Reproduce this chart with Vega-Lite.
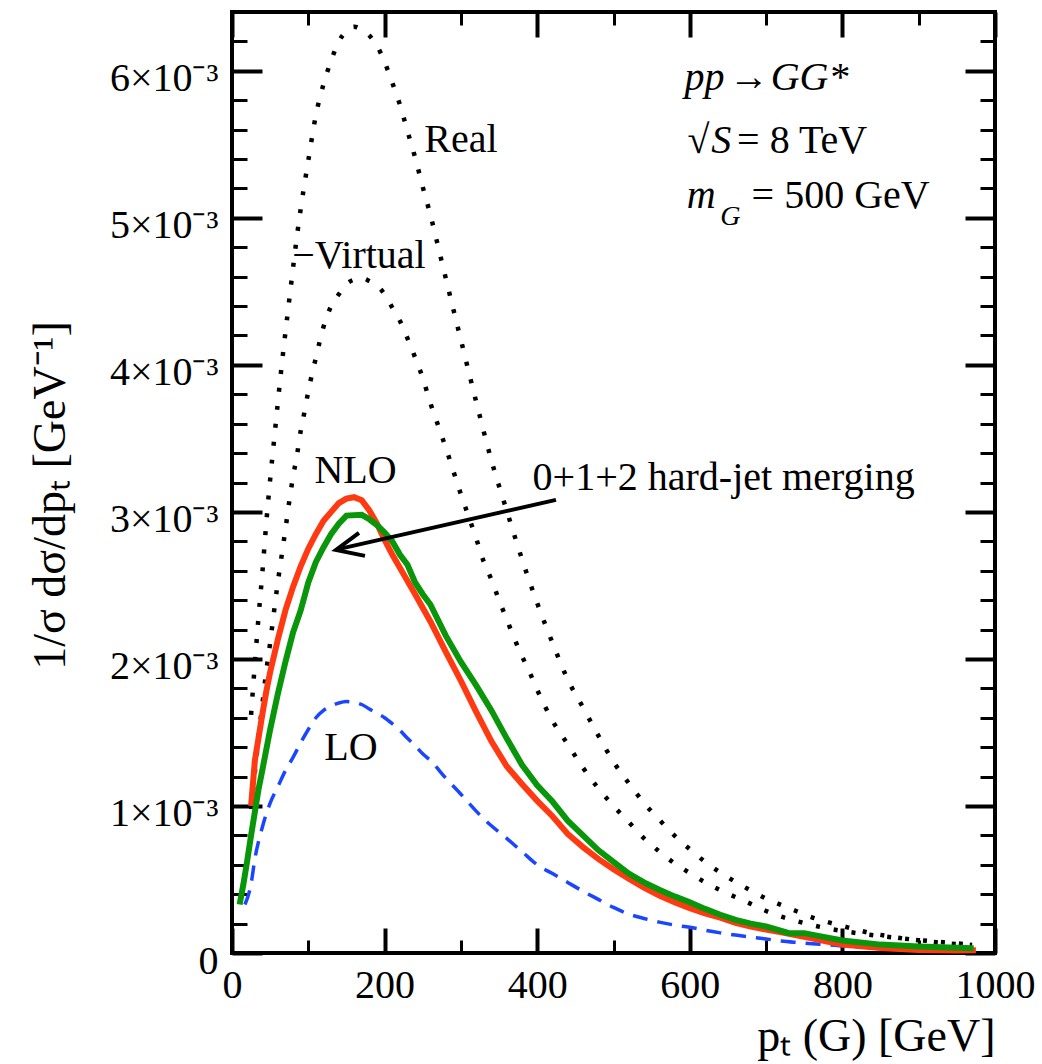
{
"$schema": "https://vega.github.io/schema/vega-lite/v6.json",
"width": 763, "height": 941,
"autosize": {"type": "none"},
"padding": {"left": 232, "top": 12, "right": 47, "bottom": 111},
"background": "white",
"config": {
  "view": {"stroke": "black", "strokeWidth": 4},
  "font": "Liberation Serif",
  "axis": {"grid": false, "domain": false, "tickColor": "black", "labelColor": "black", "titleColor": "black", "labelFont": "Liberation Serif", "titleFont": "Liberation Serif", "titleFontWeight": "normal", "tickCap": "butt"}
},
"resolve": {"axis": {"x": "independent", "y": "independent"}},
"datasets": {
  "curves": [
    {"s":"Real","x":25,"y":0.00162},{"s":"Real","x":30,"y":0.00197},{"s":"Real","x":35,"y":0.00230},{"s":"Real","x":40,"y":0.00260},{"s":"Real","x":45,"y":0.00293},{"s":"Real","x":50,"y":0.00322},{"s":"Real","x":55,"y":0.00348},{"s":"Real","x":60,"y":0.00374},{"s":"Real","x":65,"y":0.00399},{"s":"Real","x":70,"y":0.00422},{"s":"Real","x":75,"y":0.00444},{"s":"Real","x":80,"y":0.00466},{"s":"Real","x":85,"y":0.00487},{"s":"Real","x":90,"y":0.00506},{"s":"Real","x":95,"y":0.00523},{"s":"Real","x":100,"y":0.00539},{"s":"Real","x":110,"y":0.00570},{"s":"Real","x":120,"y":0.00591},{"s":"Real","x":130,"y":0.00607},{"s":"Real","x":140,"y":0.00620},{"s":"Real","x":150,"y":0.00627},{"s":"Real","x":160,"y":0.00630},{"s":"Real","x":170,"y":0.00628},{"s":"Real","x":180,"y":0.00624},{"s":"Real","x":190,"y":0.00617},{"s":"Real","x":200,"y":0.00606},{"s":"Real","x":210,"y":0.00592},{"s":"Real","x":220,"y":0.00577},{"s":"Real","x":230,"y":0.00559},{"s":"Real","x":240,"y":0.00541},{"s":"Real","x":250,"y":0.00521},{"s":"Real","x":260,"y":0.00502},{"s":"Real","x":275,"y":0.00470},{"s":"Real","x":290,"y":0.00438},{"s":"Real","x":300,"y":0.00417},{"s":"Real","x":320,"y":0.00375},{"s":"Real","x":340,"y":0.00335},{"s":"Real","x":360,"y":0.00301},{"s":"Real","x":380,"y":0.00268},{"s":"Real","x":400,"y":0.00238},{"s":"Real","x":420,"y":0.00211},{"s":"Real","x":440,"y":0.00186},{"s":"Real","x":460,"y":0.00167},{"s":"Real","x":480,"y":0.00148},{"s":"Real","x":500,"y":0.00130},{"s":"Real","x":520,"y":0.001155},{"s":"Real","x":540,"y":0.00102},{"s":"Real","x":560,"y":0.000907},{"s":"Real","x":580,"y":0.000798},{"s":"Real","x":600,"y":0.000706},{"s":"Real","x":620,"y":0.000620},{"s":"Real","x":640,"y":0.000547},{"s":"Real","x":660,"y":0.000483},{"s":"Real","x":680,"y":0.000425},{"s":"Real","x":700,"y":0.000370},{"s":"Real","x":720,"y":0.000326},{"s":"Real","x":740,"y":0.000284},{"s":"Real","x":760,"y":0.000243},{"s":"Real","x":780,"y":0.000211},{"s":"Real","x":800,"y":0.000184},{"s":"Real","x":820,"y":0.000156},{"s":"Real","x":840,"y":0.000132},{"s":"Real","x":860,"y":0.000115},{"s":"Real","x":880,"y":0.000098},{"s":"Real","x":900,"y":0.000087},{"s":"Real","x":920,"y":0.000074},{"s":"Real","x":940,"y":0.000064},{"s":"Real","x":960,"y":0.000058},{"s":"Real","x":970,"y":0.000055},

    {"s":"Virtual","x":25,"y":0.00098},{"s":"Virtual","x":30,"y":0.00123},{"s":"Virtual","x":35,"y":0.00148},{"s":"Virtual","x":40,"y":0.00170},{"s":"Virtual","x":45,"y":0.00192},{"s":"Virtual","x":50,"y":0.00211},{"s":"Virtual","x":55,"y":0.00232},{"s":"Virtual","x":60,"y":0.00252},{"s":"Virtual","x":65,"y":0.00270},{"s":"Virtual","x":70,"y":0.00288},{"s":"Virtual","x":75,"y":0.00307},{"s":"Virtual","x":80,"y":0.00324},{"s":"Virtual","x":85,"y":0.00338},{"s":"Virtual","x":90,"y":0.00355},{"s":"Virtual","x":95,"y":0.00368},{"s":"Virtual","x":100,"y":0.00382},{"s":"Virtual","x":110,"y":0.00405},{"s":"Virtual","x":120,"y":0.00426},{"s":"Virtual","x":130,"y":0.00440},{"s":"Virtual","x":140,"y":0.00448},{"s":"Virtual","x":150,"y":0.00455},{"s":"Virtual","x":160,"y":0.00458},{"s":"Virtual","x":170,"y":0.00459},{"s":"Virtual","x":180,"y":0.00457},{"s":"Virtual","x":190,"y":0.00454},{"s":"Virtual","x":200,"y":0.00448},{"s":"Virtual","x":210,"y":0.00439},{"s":"Virtual","x":220,"y":0.00430},{"s":"Virtual","x":230,"y":0.00418},{"s":"Virtual","x":240,"y":0.00405},{"s":"Virtual","x":250,"y":0.00391},{"s":"Virtual","x":260,"y":0.00374},{"s":"Virtual","x":270,"y":0.00359},{"s":"Virtual","x":280,"y":0.00344},{"s":"Virtual","x":290,"y":0.00328},{"s":"Virtual","x":300,"y":0.00312},{"s":"Virtual","x":310,"y":0.00297},{"s":"Virtual","x":320,"y":0.00282},{"s":"Virtual","x":330,"y":0.00266},{"s":"Virtual","x":340,"y":0.00254},{"s":"Virtual","x":350,"y":0.00240},{"s":"Virtual","x":360,"y":0.00227},{"s":"Virtual","x":370,"y":0.00214},{"s":"Virtual","x":380,"y":0.00202},{"s":"Virtual","x":390,"y":0.00191},{"s":"Virtual","x":400,"y":0.00179},{"s":"Virtual","x":420,"y":0.00158},{"s":"Virtual","x":440,"y":0.00142},{"s":"Virtual","x":460,"y":0.00126},{"s":"Virtual","x":480,"y":0.00112},{"s":"Virtual","x":500,"y":0.00100},{"s":"Virtual","x":520,"y":0.00089},{"s":"Virtual","x":540,"y":0.00078},{"s":"Virtual","x":560,"y":0.00069},{"s":"Virtual","x":580,"y":0.00061},{"s":"Virtual","x":600,"y":0.000544},{"s":"Virtual","x":620,"y":0.000480},{"s":"Virtual","x":640,"y":0.000427},{"s":"Virtual","x":660,"y":0.000380},{"s":"Virtual","x":680,"y":0.000334},{"s":"Virtual","x":700,"y":0.000286},{"s":"Virtual","x":720,"y":0.000247},{"s":"Virtual","x":740,"y":0.000217},{"s":"Virtual","x":760,"y":0.000190},{"s":"Virtual","x":780,"y":0.000168},{"s":"Virtual","x":800,"y":0.000150},{"s":"Virtual","x":850,"y":0.000115},{"s":"Virtual","x":900,"y":0.000088},{"s":"Virtual","x":950,"y":0.000065},{"s":"Virtual","x":970,"y":0.000057},

    {"s":"LO","x":17,"y":0.00033},{"s":"LO","x":25,"y":0.00047},{"s":"LO","x":30,"y":0.00064},{"s":"LO","x":40,"y":0.00086},{"s":"LO","x":50,"y":0.00102},{"s":"LO","x":60,"y":0.00113},{"s":"LO","x":70,"y":0.00124},{"s":"LO","x":80,"y":0.00133},{"s":"LO","x":90,"y":0.00143},{"s":"LO","x":100,"y":0.00152},{"s":"LO","x":110,"y":0.00160},{"s":"LO","x":120,"y":0.00165},{"s":"LO","x":130,"y":0.00168},{"s":"LO","x":140,"y":0.00170},{"s":"LO","x":150,"y":0.00171},{"s":"LO","x":160,"y":0.001705},{"s":"LO","x":170,"y":0.00169},{"s":"LO","x":180,"y":0.00166},{"s":"LO","x":190,"y":0.00163},{"s":"LO","x":200,"y":0.00160},{"s":"LO","x":210,"y":0.00156},{"s":"LO","x":220,"y":0.001515},{"s":"LO","x":230,"y":0.00146},{"s":"LO","x":240,"y":0.00141},{"s":"LO","x":250,"y":0.001355},{"s":"LO","x":260,"y":0.00131},{"s":"LO","x":280,"y":0.00119},{"s":"LO","x":300,"y":0.00108},{"s":"LO","x":320,"y":0.000965},{"s":"LO","x":340,"y":0.000865},{"s":"LO","x":360,"y":0.00078},{"s":"LO","x":380,"y":0.00069},{"s":"LO","x":400,"y":0.00060},{"s":"LO","x":420,"y":0.00054},{"s":"LO","x":440,"y":0.00048},{"s":"LO","x":460,"y":0.00042},{"s":"LO","x":480,"y":0.000365},{"s":"LO","x":500,"y":0.00031},{"s":"LO","x":520,"y":0.000265},{"s":"LO","x":540,"y":0.000235},{"s":"LO","x":560,"y":0.00021},{"s":"LO","x":580,"y":0.00019},{"s":"LO","x":600,"y":0.000175},{"s":"LO","x":620,"y":0.000155},{"s":"LO","x":640,"y":0.000137},{"s":"LO","x":660,"y":0.000122},{"s":"LO","x":680,"y":0.000108},{"s":"LO","x":700,"y":0.000095},{"s":"LO","x":720,"y":0.000082},{"s":"LO","x":740,"y":0.000072},{"s":"LO","x":760,"y":0.000063},{"s":"LO","x":780,"y":0.000056},{"s":"LO","x":800,"y":0.000048},{"s":"LO","x":850,"y":0.000034},{"s":"LO","x":900,"y":0.000025},{"s":"LO","x":950,"y":0.000019},{"s":"LO","x":975,"y":0.000016},

    {"s":"NLO","x":25,"y":0.00100},{"s":"NLO","x":30,"y":0.00131},{"s":"NLO","x":35,"y":0.00147},{"s":"NLO","x":40,"y":0.00163},{"s":"NLO","x":45,"y":0.00178},{"s":"NLO","x":50,"y":0.00191},{"s":"NLO","x":60,"y":0.00213},{"s":"NLO","x":70,"y":0.00233},{"s":"NLO","x":80,"y":0.00249},{"s":"NLO","x":90,"y":0.00263},{"s":"NLO","x":100,"y":0.00275},{"s":"NLO","x":110,"y":0.00285},{"s":"NLO","x":120,"y":0.00294},{"s":"NLO","x":130,"y":0.00300},{"s":"NLO","x":140,"y":0.00306},{"s":"NLO","x":150,"y":0.00309},{"s":"NLO","x":160,"y":0.00310},{"s":"NLO","x":170,"y":0.00308},{"s":"NLO","x":180,"y":0.00301},{"s":"NLO","x":190,"y":0.00292},{"s":"NLO","x":200,"y":0.00281},{"s":"NLO","x":210,"y":0.00271},{"s":"NLO","x":220,"y":0.00262},{"s":"NLO","x":240,"y":0.00244},{"s":"NLO","x":260,"y":0.002255},{"s":"NLO","x":280,"y":0.00205},{"s":"NLO","x":300,"y":0.00185},{"s":"NLO","x":320,"y":0.00164},{"s":"NLO","x":340,"y":0.00144},{"s":"NLO","x":360,"y":0.00127},{"s":"NLO","x":380,"y":0.00115},{"s":"NLO","x":400,"y":0.001035},{"s":"NLO","x":420,"y":0.00093},{"s":"NLO","x":440,"y":0.00081},{"s":"NLO","x":460,"y":0.00072},{"s":"NLO","x":480,"y":0.00064},{"s":"NLO","x":500,"y":0.00057},{"s":"NLO","x":520,"y":0.000505},{"s":"NLO","x":540,"y":0.000445},{"s":"NLO","x":560,"y":0.00039},{"s":"NLO","x":580,"y":0.000345},{"s":"NLO","x":600,"y":0.000305},{"s":"NLO","x":620,"y":0.00027},{"s":"NLO","x":640,"y":0.00024},{"s":"NLO","x":660,"y":0.000205},{"s":"NLO","x":680,"y":0.00018},{"s":"NLO","x":700,"y":0.00016},{"s":"NLO","x":720,"y":0.00014},{"s":"NLO","x":740,"y":0.00012},{"s":"NLO","x":760,"y":0.00010},{"s":"NLO","x":780,"y":0.000078},{"s":"NLO","x":800,"y":0.000058},{"s":"NLO","x":850,"y":0.000034},{"s":"NLO","x":900,"y":0.000021},{"s":"NLO","x":950,"y":0.000017},{"s":"NLO","x":975,"y":0.000018},

    {"s":"Merged","x":10,"y":0.00033},{"s":"Merged","x":15,"y":0.00047},{"s":"Merged","x":20,"y":0.00063},{"s":"Merged","x":25,"y":0.00080},{"s":"Merged","x":30,"y":0.00096},{"s":"Merged","x":35,"y":0.00112},{"s":"Merged","x":40,"y":0.00125},{"s":"Merged","x":50,"y":0.00152},{"s":"Merged","x":60,"y":0.00176},{"s":"Merged","x":70,"y":0.00198},{"s":"Merged","x":80,"y":0.00218},{"s":"Merged","x":90,"y":0.00233},{"s":"Merged","x":100,"y":0.00252},{"s":"Merged","x":110,"y":0.00266},{"s":"Merged","x":120,"y":0.00276},{"s":"Merged","x":130,"y":0.00285},{"s":"Merged","x":140,"y":0.00292},{"s":"Merged","x":150,"y":0.002975},{"s":"Merged","x":170,"y":0.00298},{"s":"Merged","x":180,"y":0.00295},{"s":"Merged","x":190,"y":0.00291},{"s":"Merged","x":200,"y":0.00286},{"s":"Merged","x":210,"y":0.00280},{"s":"Merged","x":220,"y":0.00271},{"s":"Merged","x":230,"y":0.00264},{"s":"Merged","x":240,"y":0.00252},{"s":"Merged","x":250,"y":0.00244},{"s":"Merged","x":260,"y":0.00237},{"s":"Merged","x":280,"y":0.00216},{"s":"Merged","x":300,"y":0.00198},{"s":"Merged","x":320,"y":0.00182},{"s":"Merged","x":340,"y":0.00165},{"s":"Merged","x":360,"y":0.00146},{"s":"Merged","x":380,"y":0.00128},{"s":"Merged","x":400,"y":0.00114},{"s":"Merged","x":420,"y":0.00103},{"s":"Merged","x":440,"y":0.00090},{"s":"Merged","x":460,"y":0.00080},{"s":"Merged","x":480,"y":0.00070},{"s":"Merged","x":500,"y":0.00062},{"s":"Merged","x":520,"y":0.00054},{"s":"Merged","x":540,"y":0.00048},{"s":"Merged","x":560,"y":0.00043},{"s":"Merged","x":580,"y":0.000385},{"s":"Merged","x":600,"y":0.000345},{"s":"Merged","x":620,"y":0.00030},{"s":"Merged","x":640,"y":0.00026},{"s":"Merged","x":660,"y":0.000225},{"s":"Merged","x":680,"y":0.00020},{"s":"Merged","x":700,"y":0.00018},{"s":"Merged","x":720,"y":0.00015},{"s":"Merged","x":730,"y":0.000135},{"s":"Merged","x":750,"y":0.000135},{"s":"Merged","x":770,"y":0.000115},{"s":"Merged","x":800,"y":0.000085},{"s":"Merged","x":850,"y":0.000057},{"s":"Merged","x":900,"y":0.000045},{"s":"Merged","x":950,"y":0.000036},{"s":"Merged","x":972,"y":0.000032}
  ],
  "notes": [
    {"g":"plain","label":"Real","x":252,"y":0.00545},
    {"g":"plain","label":"−Virtual","x":79,"y":0.00466},
    {"g":"plain","label":"NLO","x":108,"y":0.00320},
    {"g":"plain","label":"0+1+2 hard-jet merging","x":394,"y":0.00315},
    {"g":"plain","label":"LO","x":121,"y":0.00131},
    {"g":"plain","label":"√","x":597,"y":0.00544},
    {"g":"plain","label":"= 8 TeV","x":662,"y":0.00544},
    {"g":"plain","label":"= 500 GeV","x":681,"y":0.00507},
    {"g":"italic","label":"S","x":628,"y":0.00544},
    {"g":"italic","label":"pp","x":593,"y":0.00587},
    {"g":"plain","label":"→","x":651,"y":0.00587},
    {"g":"italic","label":"GG*","x":706,"y":0.00587},
    {"g":"italic","label":"m","x":596,"y":0.00507},
    {"g":"sub","label":"G","x":640,"y":0.00495}
  ],
  "arrow": [
    {"seg":"shaft","o":0,"x":424.6,"y":0.003082},
    {"seg":"shaft","o":1,"x":138,"y":0.002745},
    {"seg":"head","o":0,"x":166.4,"y":0.002857},
    {"seg":"head","o":1,"x":136.3,"y":0.002741},
    {"seg":"head","o":2,"x":174.3,"y":0.002701}
  ]
},
"layer": [
  {
    "data": {"name": "curves"},
    "transform": [{"filter": "datum.s == 'Real'"}],
    "mark": {"type": "line", "color": "black", "strokeWidth": 4.5, "strokeDash": [4, 14], "strokeCap": "butt", "interpolate": "monotone"},
    "encoding": {
      "x": {"field": "x", "type": "quantitative", "scale": {"domain": [0, 1000], "nice": false, "zero": false},
        "axis": {"orient": "bottom", "values": [0, 200, 400, 600, 800, 1000], "ticks": false, "labelFontSize": 40, "labelPadding": 12, "labelFlush": false, "labelOverlap": false, "labelExpr": "format(datum.value, 'd')",
          "title": "pₜ (G) [GeV]", "titleFontSize": 46, "titleAnchor": "end", "titleAlign": "right", "titleX": 763, "titleY": 97, "titleBaseline": "alphabetic"}},
      "y": {"field": "y", "type": "quantitative", "scale": {"domain": [0, 0.0064], "nice": false, "zero": false},
        "axis": {"orient": "left", "values": [0, 0.001, 0.002, 0.003, 0.004, 0.005, 0.006], "ticks": false, "labelFontSize": 40, "labelPadding": 14, "labelOffset": 8, "labelFlush": false, "labelOverlap": false,
          "labelExpr": "datum.value == 0 ? '0' : format(datum.value * 1000, '.0f') + '×10⁻³'",
          "title": "1/σ dσ/dpₜ [GeV⁻¹]", "titleFontSize": 46, "titleAngle": -90, "titleX": -182, "titleY": 483, "titleAlign": "center", "titleBaseline": "middle"}}
    }
  },
  {
    "data": {"name": "curves"},
    "transform": [{"filter": "datum.s == 'Virtual'"}],
    "mark": {"type": "line", "color": "black", "strokeWidth": 4.5, "strokeDash": [4, 14], "strokeCap": "butt", "interpolate": "monotone"},
    "encoding": {
      "x": {"field": "x", "type": "quantitative", "scale": {"domain": [0, 1000], "nice": false, "zero": false},
        "axis": {"orient": "bottom", "values": [0, 200, 400, 600, 800, 1000], "labels": false, "title": null, "tickSize": -25, "tickWidth": 4}},
      "y": {"field": "y", "type": "quantitative", "scale": {"domain": [0, 0.0064], "nice": false, "zero": false},
        "axis": {"orient": "left", "values": [0, 0.001, 0.002, 0.003, 0.004, 0.005, 0.006], "labels": false, "title": null, "tickSize": -30, "tickWidth": 4}}
    }
  },
  {
    "data": {"name": "curves"},
    "transform": [{"filter": "datum.s == 'LO'"}],
    "mark": {"type": "line", "color": "#1a46ff", "strokeWidth": 3.5, "strokeDash": [15, 10], "strokeCap": "butt", "interpolate": "monotone"},
    "encoding": {
      "x": {"field": "x", "type": "quantitative", "scale": {"domain": [0, 1000], "nice": false, "zero": false},
        "axis": {"orient": "top", "values": [0, 200, 400, 600, 800, 1000], "labels": false, "title": null, "tickSize": -25, "tickWidth": 4}},
      "y": {"field": "y", "type": "quantitative", "scale": {"domain": [0, 0.0064], "nice": false, "zero": false},
        "axis": {"orient": "right", "values": [0, 0.001, 0.002, 0.003, 0.004, 0.005, 0.006], "labels": false, "title": null, "tickSize": -30, "tickWidth": 4}}
    }
  },
  {
    "data": {"name": "curves"},
    "transform": [{"filter": "datum.s == 'NLO'"}],
    "mark": {"type": "line", "color": "#ff3a12", "strokeWidth": 6},
    "encoding": {
      "x": {"field": "x", "type": "quantitative", "scale": {"domain": [0, 1000], "nice": false, "zero": false},
        "axis": {"orient": "bottom", "values": [100, 300, 500, 700, 900], "labels": false, "title": null, "tickSize": -13, "tickWidth": 3}},
      "y": {"field": "y", "type": "quantitative", "scale": {"domain": [0, 0.0064], "nice": false, "zero": false},
        "axis": {"orient": "left", "values": [0.0002, 0.0004, 0.0006, 0.0008, 0.0012, 0.0014, 0.0016, 0.0018, 0.0022, 0.0024, 0.0026, 0.0028, 0.0032, 0.0034, 0.0036, 0.0038, 0.0042, 0.0044, 0.0046, 0.0048, 0.0052, 0.0054, 0.0056, 0.0058, 0.0062], "labels": false, "title": null, "tickSize": -15, "tickWidth": 3}}
    }
  },
  {
    "data": {"name": "curves"},
    "transform": [{"filter": "datum.s == 'Merged'"}],
    "mark": {"type": "line", "color": "#0a960a", "strokeWidth": 6},
    "encoding": {
      "x": {"field": "x", "type": "quantitative", "scale": {"domain": [0, 1000], "nice": false, "zero": false},
        "axis": {"orient": "top", "values": [100, 300, 500, 700, 900], "labels": false, "title": null, "tickSize": -13, "tickWidth": 3}},
      "y": {"field": "y", "type": "quantitative", "scale": {"domain": [0, 0.0064], "nice": false, "zero": false},
        "axis": {"orient": "right", "values": [0.0002, 0.0004, 0.0006, 0.0008, 0.0012, 0.0014, 0.0016, 0.0018, 0.0022, 0.0024, 0.0026, 0.0028, 0.0032, 0.0034, 0.0036, 0.0038, 0.0042, 0.0044, 0.0046, 0.0048, 0.0052, 0.0054, 0.0056, 0.0058, 0.0062], "labels": false, "title": null, "tickSize": -15, "tickWidth": 3}}
    }
  },
  {
    "data": {"name": "arrow"},
    "mark": {"type": "line", "color": "black", "strokeWidth": 4, "strokeCap": "butt", "strokeJoin": "miter"},
    "encoding": {
      "x": {"field": "x", "type": "quantitative", "scale": {"domain": [0, 1000], "nice": false, "zero": false}, "axis": null},
      "y": {"field": "y", "type": "quantitative", "scale": {"domain": [0, 0.0064], "nice": false, "zero": false}, "axis": null},
      "detail": {"field": "seg"},
      "order": {"field": "o", "type": "quantitative"}
    }
  },
  {
    "data": {"name": "notes"},
    "transform": [{"filter": "datum.g == 'plain'"}],
    "mark": {"type": "text", "font": "Liberation Serif", "fontSize": 40, "align": "left", "baseline": "alphabetic", "color": "black"},
    "encoding": {
      "x": {"field": "x", "type": "quantitative", "scale": {"domain": [0, 1000], "nice": false, "zero": false}, "axis": null},
      "y": {"field": "y", "type": "quantitative", "scale": {"domain": [0, 0.0064], "nice": false, "zero": false}, "axis": null},
      "text": {"field": "label"}
    }
  },
  {
    "data": {"name": "notes"},
    "transform": [{"filter": "datum.g == 'italic'"}],
    "mark": {"type": "text", "font": "Liberation Serif", "fontSize": 40, "fontStyle": "italic", "align": "left", "baseline": "alphabetic", "color": "black"},
    "encoding": {
      "x": {"field": "x", "type": "quantitative", "scale": {"domain": [0, 1000], "nice": false, "zero": false}, "axis": null},
      "y": {"field": "y", "type": "quantitative", "scale": {"domain": [0, 0.0064], "nice": false, "zero": false}, "axis": null},
      "text": {"field": "label"}
    }
  },
  {
    "data": {"name": "notes"},
    "transform": [{"filter": "datum.g == 'sub'"}],
    "mark": {"type": "text", "font": "Liberation Serif", "fontSize": 28, "fontStyle": "italic", "align": "left", "baseline": "alphabetic", "color": "black"},
    "encoding": {
      "x": {"field": "x", "type": "quantitative", "scale": {"domain": [0, 1000], "nice": false, "zero": false}, "axis": null},
      "y": {"field": "y", "type": "quantitative", "scale": {"domain": [0, 0.0064], "nice": false, "zero": false}, "axis": null},
      "text": {"field": "label"}
    }
  }
]
}
